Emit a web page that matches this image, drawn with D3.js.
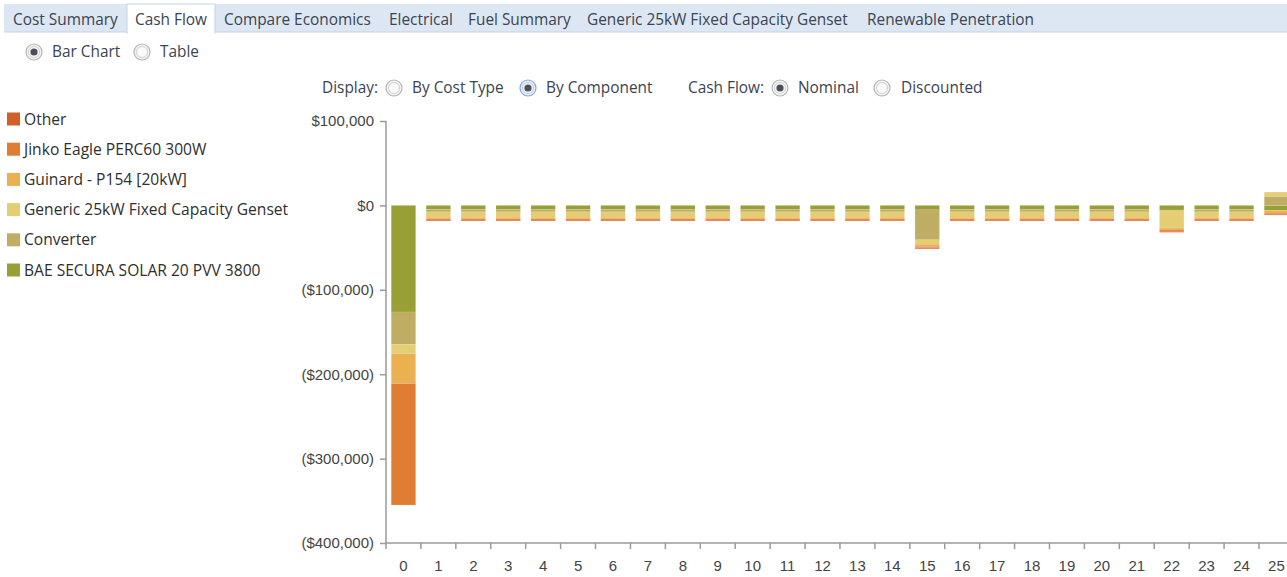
<!DOCTYPE html>
<html>
<head>
<meta charset="utf-8">
<script src="https://cdn.jsdelivr.net/npm/d3@7"></script>
<style>
  body { margin: 0; background: #fff; }
  svg { display: block; font-family: "Open Sans", "Noto Sans", sans-serif; }
  .axis path, .axis line { stroke: #9a9a9a; stroke-width: 1.5; }
  .axis text { fill: #444; font-size: 15px; }
</style>
</head>
<body>
<svg class="canvas" width="1287" height="577"></svg>
<script>
"use strict";

// tab strip and option rows
const tabs = ["Cost Summary", "Cash Flow", "Compare Economics", "Electrical", "Fuel Summary", "Generic 25kW Fixed Capacity Genset", "Renewable Penetration"];
const tabX = [13, 135, 224, 389, 468, 587, 867];

// legend order (top to bottom) is the reverse of the stacking order
const components = ["BAE SECURA SOLAR 20 PVV 3800", "Converter", "Generic 25kW Fixed Capacity Genset", "Guinard - P154 [20kW]", "Jinko Eagle PERC60 300W", "Other"];
const colors = ["#98a035", "#bead63", "#e4cd73", "#ebb151", "#df7d33", "#d35e27"];

const years = d3.range(0, 26);

// nominal cash flow per component, one value per year
const bae =       [-126300, -4700, -4700, -4700, -4700, -4700, -4700, -4700, -4700, -4700, -4700, -4700, -4700, -4700, -4700, -5300, -4700, -4700, -4700, -4700, -4700, -4700, -5500, -4700, -4700, -6000];
const converter = [-38200, -3000, -3000, -3000, -3000, -3000, -3000, -3000, -3000, -3000, -3000, -3000, -3000, -3000, -3000, -35500, -3000, -3000, -3000, -3000, -3000, -3000, -1000, -3000, -3000, 10800];
const genset =    [-11000, -6300, -6300, -6300, -6300, -6300, -6300, -6300, -6300, -6300, -6300, -6300, -6300, -6300, -6300, -5200, -6300, -6300, -6300, -6300, -6300, -6300, -20200, -6300, -6300, 5000];
const guinard =   [-35500, -2000, -2000, -2000, -2000, -2000, -2000, -2000, -2000, -2000, -2000, -2000, -2000, -2000, -2000, -2600, -2000, -2000, -2000, -2000, -2000, -2000, -2400, -2000, -2000, -3200];
const jinko =     [-144000, -1400, -1400, -1400, -1400, -1400, -1400, -1400, -1400, -1400, -1400, -1400, -1400, -1400, -1400, -1600, -1400, -1400, -1400, -1400, -1400, -1400, -1600, -1400, -1400, -1300];
const other =     [0, -1000, -1000, -1000, -1000, -1000, -1000, -1000, -1000, -1000, -1000, -1000, -1000, -1000, -1000, -1200, -1000, -1000, -1000, -1000, -1000, -1000, -1200, -1000, -1000, -1000];

const yTicks = [100000, 0, -100000, -200000, -300000, -400000];

function money(v) {
  const s = "$" + d3.format(",")(Math.abs(v));
  return v < 0 ? "(" + s + ")" : s;
}

function radio(g, cx, cy, on, blue) {
  g.append("circle").attr("cx", cx).attr("cy", cy).attr("r", 8)
    .attr("fill", "#f3f3f3").attr("stroke", blue ? "#7aa7dd" : "#b5b5b5").attr("stroke-width", 1.2);
  g.append("circle").attr("cx", cx).attr("cy", cy).attr("r", 5.5)
    .attr("fill", "#fafafa").attr("stroke", blue ? "#a9c6ea" : "#d0d0d0").attr("stroke-width", 1);
  if (on) {
    g.append("circle").attr("cx", cx).attr("cy", cy).attr("r", 3.6).attr("fill", "#4a4f5a");
  }
}

function render() {
  const svg = d3.select(".canvas");

  // ----- tabs
  const top = svg.append("g");
  top.append("rect").attr("x", 4).attr("y", 4).attr("width", 1283).attr("height", 28).attr("fill", "#dde7f3");
  top.append("line").attr("x1", 4).attr("x2", 1287).attr("y1", 32).attr("y2", 32).attr("stroke", "#c5d3e6");
  top.append("rect").attr("x", 127).attr("y", 4).attr("width", 88).attr("height", 29)
    .attr("fill", "#fff").attr("stroke", "#c5d3e6");
  top.append("rect").attr("x", 128).attr("y", 31).attr("width", 86).attr("height", 3).attr("fill", "#fff");
  top.selectAll("text.tab").data(tabs).enter().append("text")
    .attr("class", "tab")
    .attr("x", (d, i) => tabX[i]).attr("y", 25)
    .attr("font-size", 15.4).attr("fill", "#3b4452")
    .text(d => d);

  // ----- option rows
  const opts = svg.append("g").attr("font-size", 15.4).attr("fill", "#3b4452");
  const rows = [
    { t: "radio", x: 34, y: 52, on: true }, { t: "text", x: 52, y: 57, s: "Bar Chart" },
    { t: "radio", x: 142, y: 52, on: false }, { t: "text", x: 160, y: 57, s: "Table" },
    { t: "text", x: 322, y: 93, s: "Display:" },
    { t: "radio", x: 394, y: 88, on: false }, { t: "text", x: 412, y: 93, s: "By Cost Type" },
    { t: "radio", x: 528, y: 88, on: true, blue: true }, { t: "text", x: 546, y: 93, s: "By Component" },
    { t: "text", x: 688, y: 93, s: "Cash Flow:" },
    { t: "radio", x: 780, y: 88, on: true }, { t: "text", x: 798, y: 93, s: "Nominal" },
    { t: "radio", x: 882, y: 88, on: false }, { t: "text", x: 901, y: 93, s: "Discounted" }
  ];
  rows.forEach(r => {
    if (r.t === "radio") radio(opts, r.x, r.y, r.on, r.blue);
    else opts.append("text").attr("x", r.x).attr("y", r.y).attr("fill", "#3b4452").text(r.s);
  });

  // ----- legend
  const legendItems = components.map((c, i) => ({ name: c, color: colors[i] })).reverse();
  const legend = svg.append("g").selectAll("g").data(legendItems).enter().append("g")
    .attr("transform", (d, i) => `translate(7, ${119 + i * 30.2})`);
  legend.append("rect").attr("x", 0).attr("y", -6.5).attr("width", 13).attr("height", 13).attr("fill", d => d.color);
  legend.append("text").attr("x", 17).attr("y", 5.5).attr("font-size", 15.6).attr("fill", "#2f2f2f").text(d => d.name);

  // ----- chart
  const rowsData = years.map((y, i) => ({
    year: y,
    "BAE SECURA SOLAR 20 PVV 3800": bae[i],
    "Converter": converter[i],
    "Generic 25kW Fixed Capacity Genset": genset[i],
    "Guinard - P154 [20kW]": guinard[i],
    "Jinko Eagle PERC60 300W": jinko[i],
    "Other": other[i]
  }));

  const left = 386;
  const step = 34.92;
  const xScale = d3.scaleBand().domain(years).range([left, left + step * years.length])
    .paddingInner(0.3).paddingOuter(0.15);
  const yScale = d3.scaleLinear().domain([-400000, 100000]).range([543, 121]);
  const color = d3.scaleOrdinal().domain(components).range(colors);

  const series = d3.stack().keys(components).offset(d3.stackOffsetDiverging)(rowsData);

  svg.append("g").selectAll("g").data(series).enter().append("g")
    .attr("fill", d => color(d.key))
    .selectAll("rect").data(d => d).enter().append("rect")
    .attr("x", d => xScale(d.data.year))
    .attr("width", xScale.bandwidth())
    .attr("y", d => yScale(Math.max(d[0], d[1])))
    .attr("height", d => Math.abs(yScale(d[0]) - yScale(d[1])))
    .attr("stroke", "#fff").attr("stroke-opacity", 0.2).attr("stroke-width", 0.6);

  // y axis
  const yAxis = svg.append("g").attr("class", "axis")
    .attr("transform", `translate(${left},0)`)
    .call(d3.axisLeft(yScale).tickValues(yTicks).tickFormat(money).tickSize(6).tickPadding(6));
  yAxis.select(".domain").attr("d", `M0,${yScale(100000)}V${yScale(-400000)}`);

  // x axis: labels in band centres, ticks on band boundaries
  const xAxis = svg.append("g").attr("class", "axis")
    .attr("transform", `translate(0,${yScale(-400000)})`)
    .call(d3.axisBottom(xScale).tickSize(0).tickPadding(17));
  xAxis.select(".domain").attr("d", `M${left},0H1287`);
  xAxis.selectAll(".tick line").remove();
  xAxis.selectAll("line.bound").data(years).enter().append("line")
    .attr("class", "bound")
    .attr("x1", d => xScale(d) - xScale.step() * 0.15)
    .attr("x2", d => xScale(d) - xScale.step() * 0.15)
    .attr("y1", 0).attr("y2", 6);
}

window.onload = render;
</script>
</body>
</html>
